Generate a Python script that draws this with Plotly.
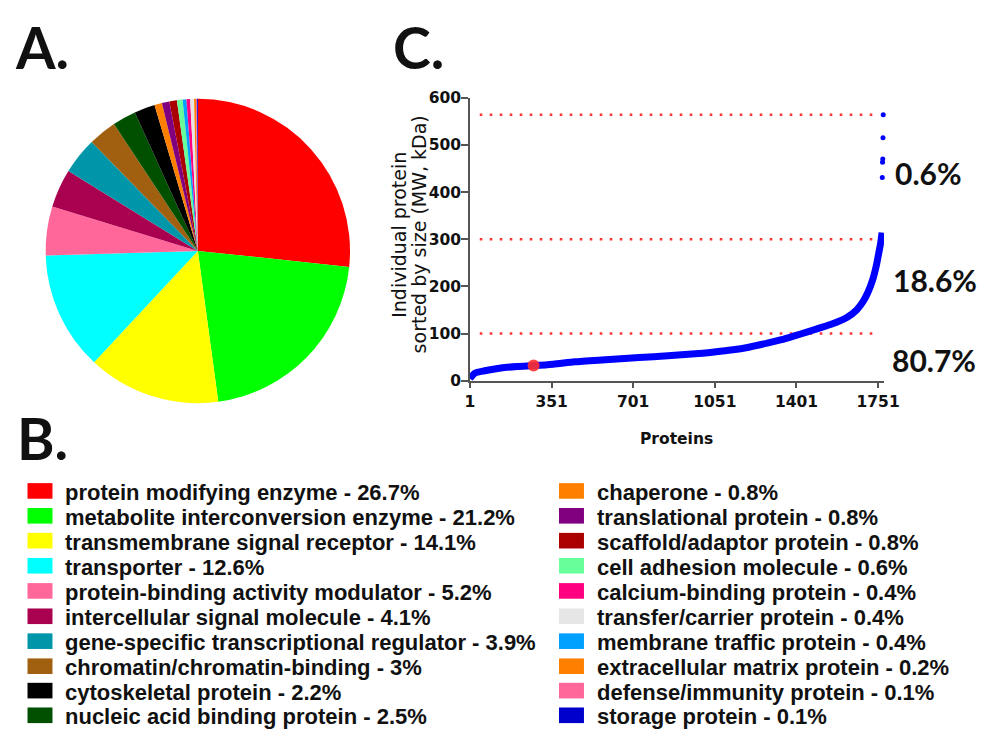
import plotly.graph_objects as go

W, H = 991, 736

# ---------------- Panels A/B: protein class distribution ----------------
classes = [
    "protein modifying enzyme", "metabolite interconversion enzyme",
    "transmembrane signal receptor", "transporter",
    "protein-binding activity modulator", "intercellular signal molecule",
    "gene-specific transcriptional regulator", "chromatin/chromatin-binding",
    "cytoskeletal protein", "nucleic acid binding protein",
    "chaperone", "translational protein", "scaffold/adaptor protein",
    "cell adhesion molecule", "calcium-binding protein",
    "transfer/carrier protein", "membrane traffic protein",
    "extracellular matrix protein", "defense/immunity protein",
    "storage protein",
]
class_pct = [26.7, 21.2, 14.1, 12.6, 5.2, 4.1, 3.9, 3, 2.2, 2.5,
             0.8, 0.8, 0.8, 0.6, 0.4, 0.4, 0.4, 0.2, 0.1, 0.1]
class_colors = [
    "#FF0000", "#00FF00", "#FFFF00", "#00FFFF", "#FF6699", "#AA0050",
    "#0096AA", "#A0600F", "#000000", "#005000",
    "#FF8000", "#800080", "#AA0000", "#66FF99", "#FF0080",
    "#E6E6E6", "#00A0FF", "#FF8000", "#FF6699", "#0000CC",
]
# slice sequence, clockwise from 12 o'clock
slice_order = [0, 1, 2, 3, 4, 5, 6, 7, 9, 8, 10, 11, 12, 13, 16, 14, 15, 17, 18, 19]

# ---------------- Panel C: proteins sorted by molecular weight ----------------
protein_rank = [1, 22, 64, 134, 204, 274, 358, 450, 566, 727, 850, 967, 1048,
                1120, 1197, 1280, 1337, 1379, 1419, 1477, 1547, 1617, 1659,
                1687, 1708, 1729, 1743, 1754, 1762, 1768]
protein_mw = [4, 16, 21, 27, 30, 32, 35, 40, 44, 49, 53, 57, 61,
              65, 71, 80, 87, 93, 99, 108, 119, 134, 150,
              168, 188, 216, 243, 271, 292, 314]
large_rank = [1769, 1770, 1771, 1772, 1773]
large_mw = [431, 463, 470, 515, 564]
marked_rank = [274]
marked_mw = [32]
cutoff_mw = [100, 300, 564]
bin_labels = ["80.7%", "18.6%", "0.6%"]
x_ticks = [1, 351, 701, 1051, 1401, 1751]
y_ticks = [0, 100, 200, 300, 400, 500, 600]


def px(x):
    return x / W


def py(y):
    return 1 - y / H


BLACK = "#111111"
AXIS = "#555555"

fig = go.Figure()

# pie (panel A)
fig.add_trace(go.Pie(
    labels=[classes[i] for i in slice_order],
    values=[class_pct[i] for i in slice_order],
    marker=dict(colors=[class_colors[i] for i in slice_order],
                line=dict(width=0)),
    sort=False, direction="clockwise", rotation=0,
    textinfo="none", hoverinfo="label+percent", showlegend=False,
    domain=dict(x=[px(41), px(353)], y=[py(404), py(92)]),
))

# cutoff lines (panel C)
x_lo, x_hi = 43, 1745
for v in cutoff_mw:
    fig.add_trace(go.Scatter(
        x=[x_lo, x_hi], y=[v, v], mode="lines",
        line=dict(color="#FF3535", width=2.6, dash="2.6px,7.4px"),
        hoverinfo="skip", showlegend=False, xaxis="x", yaxis="y",
    ))

# sorted protein sizes
fig.add_trace(go.Scatter(
    x=protein_rank, y=protein_mw, mode="lines",
    line=dict(color="#0000FF", width=7, shape="spline", smoothing=0.6),
    showlegend=False, xaxis="x", yaxis="y",
))
fig.add_trace(go.Scatter(
    x=large_rank, y=large_mw, mode="markers",
    marker=dict(color="#0000FF", size=5),
    showlegend=False, xaxis="x", yaxis="y", cliponaxis=False,
))
fig.add_trace(go.Scatter(
    x=marked_rank, y=marked_mw, mode="markers",
    marker=dict(color="#FF3030", size=12, opacity=0.9),
    showlegend=False, xaxis="x", yaxis="y",
))

x_scale = (892 - 475) / (1751 - 1)
x_max = 1 + (898 - 475) / x_scale

tick_font = dict(family="DejaVu Sans", size=15.5, color=BLACK, weight="bold")
fig.update_layout(
    width=W, height=H,
    margin=dict(l=0, r=0, t=0, b=0),
    paper_bgcolor="white", plot_bgcolor="white",
    xaxis=dict(
        domain=[px(475), px(898)], range=[1, x_max],
        tickvals=x_ticks, ticktext=[str(t) for t in x_ticks],
        showline=True, linecolor=AXIS, linewidth=1.5,
        ticks="outside", ticklen=6, tickwidth=1.5, tickcolor=AXIS,
        showgrid=False, zeroline=False, tickfont=tick_font,
        anchor="y",
    ),
    yaxis=dict(
        domain=[py(381), py(91)], range=[0, 600],
        tickvals=y_ticks,
        showline=True, linecolor=AXIS, linewidth=1.5,
        ticks="outside", ticklen=7, tickwidth=1.5, tickcolor=AXIS,
        showgrid=False, zeroline=False, tickfont=tick_font,
        ticklabelstandoff=-3,
        anchor="x",
    ),
)

ann = []


def text(x, y, s, size, family="Liberation Sans", weight="bold",
         xanchor="left", yanchor="middle", angle=0):
    ann.append(dict(
        x=px(x), y=py(y), xref="paper", yref="paper", text=s,
        showarrow=False, xanchor=xanchor, yanchor=yanchor, textangle=angle,
        font=dict(family=family, size=size, color=BLACK, weight=weight),
    ))


# panel letters
text(8, 39, "A.", 57, family="Lato")
text(10, 440, "B.", 57, family="Lato")
text(394, 39, "C.", 57, family="Lato")

# axis titles
text(686.5, 441, "Proteins", 15.5, family="DejaVu Sans", xanchor="center")
text(403, 231, "Individual protein", 19, family="DejaVu Sans",
     weight="normal", xanchor="center", angle=-90)
text(423, 231, "sorted by size (MW, kDa)", 19, family="DejaVu Sans",
     weight="normal", xanchor="center", angle=-90)

# share of proteins per size bin
for s, (x, y) in zip(bin_labels, [(904, 360), (905, 278), (907, 168)]):
    text(x, y, s, 30, family="Lato")

# legend (panel B), two columns
rows_y = [494, 519.5, 545, 570.7, 596.5, 622.5, 648, 673.7, 698.7, 724]
shapes = []
for i, (name, pct, col) in enumerate(zip(classes, class_pct, class_colors)):
    colx = 0 if i < 10 else 1
    r = i % 10
    yc = rows_y[r]
    sx0 = 23 if colx == 0 else 566
    tx = 59 if colx == 0 else 603
    shapes.append(dict(
        type="rect", xref="paper", yref="paper",
        x0=px(sx0), x1=px(sx0 + 25.5), y0=py(yc + 8), y1=py(yc - 8),
        fillcolor=col, line=dict(width=0),
    ))
    text(tx, yc + 1.5, f"{name} - {pct:g}%", 22)

fig.update_layout(annotations=ann, shapes=shapes)

fig.write_html("out.html")
